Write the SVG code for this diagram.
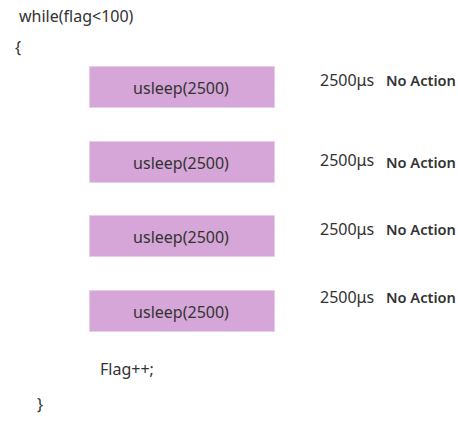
<svg xmlns="http://www.w3.org/2000/svg" width="458" height="430" viewBox="0 0 458 430">
<style>
  .code { font-family: "Noto Sans", "Open Sans", "Liberation Sans", sans-serif; font-size: 16px; fill: #333333; }
  .box { fill: #d5a6d7; stroke: #e6cde8; stroke-width: 1; }
  .lbl { font-family: "Noto Sans", "Open Sans", "Liberation Sans", sans-serif; font-size: 16px; fill: #333333; text-anchor: middle; }
  .time { font-family: "Noto Sans", "Open Sans", "Liberation Sans", sans-serif; font-size: 16px; fill: #333333; }
  .na { font-family: "Noto Sans", "Open Sans", "Liberation Sans", sans-serif; font-size: 14.6px; font-weight: 600; fill: #333333; }
</style>
<rect width="458" height="430" fill="#ffffff"/>
<g id="header">
  <text class="code" x="19" y="22">while(flag&lt;100)</text>
  <text class="code" x="15" y="53">{</text>
</g>
<g id="sleep1">
  <rect class="box" x="89.5" y="66.5" width="185" height="41"/>
  <text class="lbl" x="181" y="94">usleep(2500)</text>
</g>
<g id="note1">
  <text class="time" x="320" y="86">2500μs</text>
  <text class="na" x="386" y="86">No Action</text>
</g>
<g id="sleep2">
  <rect class="box" x="89.5" y="141.5" width="185" height="41"/>
  <text class="lbl" x="181" y="169">usleep(2500)</text>
</g>
<g id="note2">
  <text class="time" x="320" y="166">2500μs</text>
  <text class="na" x="386" y="168">No Action</text>
</g>
<g id="sleep3">
  <rect class="box" x="89.5" y="215.5" width="185" height="41"/>
  <text class="lbl" x="181" y="243">usleep(2500)</text>
</g>
<g id="note3">
  <text class="time" x="320" y="235">2500μs</text>
  <text class="na" x="386" y="235">No Action</text>
</g>
<g id="sleep4">
  <rect class="box" x="89.5" y="290.5" width="185" height="41"/>
  <text class="lbl" x="181" y="318">usleep(2500)</text>
</g>
<g id="note4">
  <text class="time" x="320" y="303">2500μs</text>
  <text class="na" x="386" y="303">No Action</text>
</g>
<g id="footer">
  <text class="code" x="100" y="375">Flag++;</text>
  <text class="code" x="37" y="410">}</text>
</g>
<g id="connectors"></g>
</svg>
